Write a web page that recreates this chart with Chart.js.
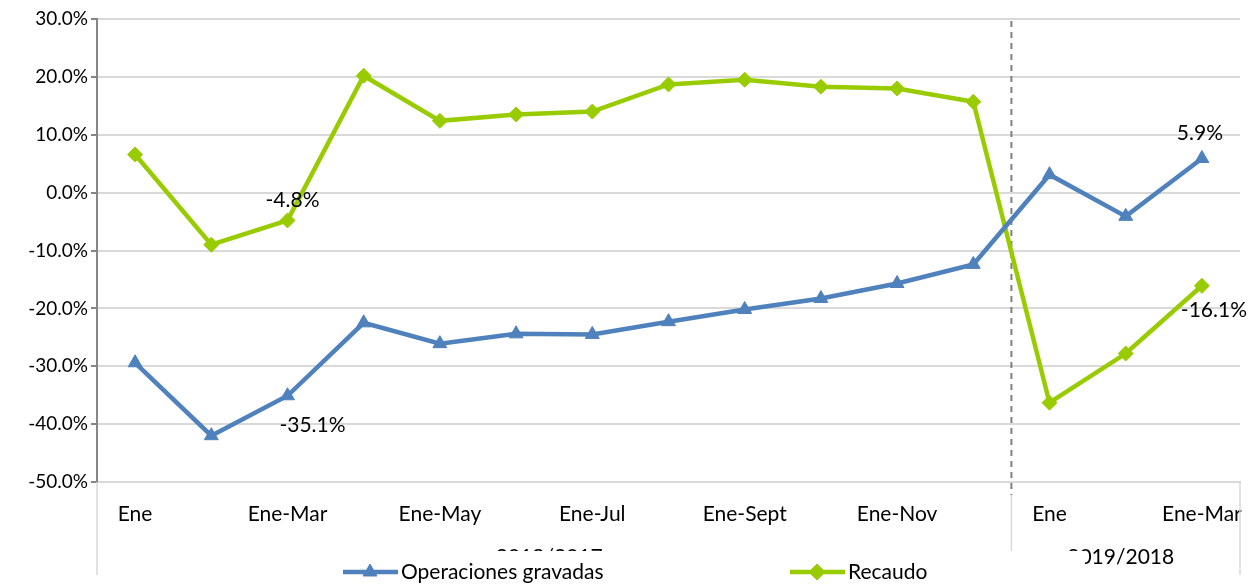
<!DOCTYPE html>
<html>
<head>
<meta charset="utf-8">
<script src="https://cdn.jsdelivr.net/npm/chart.js@4"></script>
<style>
    html, body { margin: 0; padding: 0; background: #fff; }
</style>
</head>
<body>
<canvas id="chart" width="1255" height="586"></canvas>
<script>
// categories (cumulative months) and the two period groups
const categories = ['Ene', 'Ene-Feb', 'Ene-Mar', 'Ene-Abr', 'Ene-May', 'Ene-Jun', 'Ene-Jul',
    'Ene-Ago', 'Ene-Sept', 'Ene-Oct', 'Ene-Nov', 'Ene-Dic', 'Ene', 'Ene-Feb', 'Ene-Mar'];
const groupLabels = ['2018/2017', '2019/2018'];
const groupSizes = [12, 3];

// series values, in %
const seriesNames = ['Operaciones gravadas', 'Recaudo'];
const operaciones = [-29.4, -42.0, -35.1, -22.5, -26.1, -24.4, -24.5, -22.3, -20.2, -18.3, -15.7, -12.4, 3.1, -4.1, 5.9];
const recaudo = [6.6, -9.0, -4.8, 20.2, 12.4, 13.5, 14.0, 18.7, 19.5, 18.3, 18.0, 15.7, -36.3, -27.8, -16.1];

// y axis
const yMin = -50;
const yMax = 30;
const yStep = 10;

const BLUE = '#4F81BD';
const GREEN = '#99CC00';
const FONT = 'Lato, "Noto Sans", sans-serif';
const Y_FONT_SIZE = 19;
const FONT_SIZE = 21;

/**
 * Value labels on a few chosen points
 */
const valueLabels = {
    id: 'valueLabels',
    afterDatasetsDraw(chart, args, opts) {
        const ctx = chart.ctx;
        ctx.save();
        ctx.font = `${FONT_SIZE}px ${FONT}`;
        ctx.fillStyle = '#000';
        ctx.textAlign = 'center';
        ctx.textBaseline = 'middle';
        opts.items.forEach((it) => {
            const pt = chart.getDatasetMeta(it.ds).data[it.i];
            const v = chart.data.datasets[it.ds].data[it.i];
            ctx.fillText(v.toFixed(1) + '%', pt.x + it.dx, pt.y + it.dy);
        });
        ctx.restore();
    },
};

/**
 * Dashed separator between the two periods
 */
const periodDivider = {
    id: 'periodDivider',
    beforeDatasetsDraw(chart) {
        const ctx = chart.ctx;
        const xs = chart.scales.x;
        const { top, bottom } = chart.chartArea;
        const x = (xs.getPixelForValue(groupSizes[0] - 1) + xs.getPixelForValue(groupSizes[0])) / 2;
        ctx.save();
        ctx.strokeStyle = '#808080';
        ctx.lineWidth = 2;
        ctx.setLineDash([6, 5]);
        ctx.beginPath();
        ctx.moveTo(x, top + 2);
        ctx.lineTo(x, bottom + 13);
        ctx.stroke();
        ctx.restore();
    },
};

/**
 * Group labels under the axis and the legend box on top of them
 */
const groupsAndLegend = {
    id: 'groupsAndLegend',
    afterDraw(chart) {
        const ctx = chart.ctx;
        const xs = chart.scales.x;
        const { left, right, bottom } = chart.chartArea;
        const mid = (xs.getPixelForValue(groupSizes[0] - 1) + xs.getPixelForValue(groupSizes[0])) / 2;
        const edges = [left, mid, right];

        ctx.save();
        // group separators
        ctx.strokeStyle = '#d9d9d9';
        ctx.lineWidth = 1.5;
        ctx.beginPath();
        ctx.moveTo(left, bottom);
        ctx.lineTo(left, 575);
        ctx.moveTo(mid, bottom + 13);
        ctx.lineTo(mid, 575);
        ctx.moveTo(right, bottom);
        ctx.lineTo(right, 575);
        ctx.stroke();

        // group labels
        ctx.font = `${FONT_SIZE}px ${FONT}`;
        ctx.fillStyle = '#000';
        ctx.textAlign = 'center';
        ctx.textBaseline = 'middle';
        groupLabels.forEach((g, i) => {
            ctx.fillText(g, (edges[i] + edges[i + 1]) / 2 - 5, 557);
        });

        // legend box (white, covers the group labels like the original)
        ctx.fillStyle = '#fff';
        ctx.fillRect(335, 551, 750, 35);

        const items = [
            { x: 343, color: BLUE, style: 'triangle' },
            { x: 790, color: GREEN, style: 'rectRot' },
        ];
        items.forEach((it, i) => {
            const y = 572;
            ctx.strokeStyle = it.color;
            ctx.fillStyle = it.color;
            ctx.lineWidth = 4.5;
            ctx.beginPath();
            ctx.moveTo(it.x, y);
            ctx.lineTo(it.x + 55, y);
            ctx.stroke();
            ctx.lineWidth = 1;
            Chart.helpers.drawPoint(ctx, { pointStyle: it.style, rotation: 0, radius: 8, borderWidth: 1 }, it.x + 27, y);
            ctx.fillStyle = '#000';
            ctx.textAlign = 'left';
            ctx.fillText(chart.data.datasets[i].label, it.x + 58, y);
        });
        ctx.restore();
    },
};

new Chart(document.getElementById('chart'), {
    type: 'line',
    data: {
        labels: categories,
        datasets: [
            {
                label: seriesNames[0],
                data: operaciones,
                borderColor: BLUE,
                backgroundColor: BLUE,
                borderWidth: 4.5,
                pointStyle: 'triangle',
                pointRadius: 8,
                pointBorderWidth: 1,
                tension: 0,
            },
            {
                label: seriesNames[1],
                data: recaudo,
                borderColor: GREEN,
                backgroundColor: GREEN,
                borderWidth: 4.5,
                pointStyle: 'rectRot',
                pointRadius: 7.5,
                pointBorderWidth: 1,
                tension: 0,
            },
        ],
    },
    plugins: [periodDivider, valueLabels, groupsAndLegend],
    options: {
        responsive: false,
        animation: false,
        layout: { padding: { top: 19, right: 15, bottom: 0, left: 0 } },
        scales: {
            x: {
                offset: true,
                grid: { display: false, drawTicks: false },
                border: { color: '#d9d9d9', width: 2 },
                ticks: {
                    autoSkip: false,
                    maxRotation: 0,
                    padding: 20,
                    color: '#000',
                    font: { family: FONT, size: FONT_SIZE },
                    callback: (v, i) => (i % 2 === 0 ? categories[i] : ''),
                },
                afterFit: (scale) => {
                    scale.height = 104;
                    scale.paddingLeft = 0;
                    scale.paddingRight = 0;
                },
            },
            y: {
                min: yMin,
                max: yMax,
                ticks: {
                    stepSize: yStep,
                    padding: 3,
                    color: '#000',
                    font: { family: FONT, size: Y_FONT_SIZE },
                    callback: (v) => v.toFixed(1) + '%',
                },
                grid: { color: '#d9d9d9', lineWidth: 2, tickColor: '#868686', tickLength: 6 },
                border: { color: '#868686', width: 2 },
                afterFit: (scale) => { scale.width = 97; },
            },
        },
        plugins: {
            legend: { display: false },
            tooltip: { enabled: false },
            valueLabels: {
                items: [
                    { ds: 1, i: 2, dx: 5, dy: -20 },
                    { ds: 0, i: 2, dx: 25, dy: 29 },
                    { ds: 0, i: 14, dx: -2, dy: -25 },
                    { ds: 1, i: 14, dx: 12, dy: 24 },
                ],
            },
        },
    },
});
</script>
</body>
</html>
